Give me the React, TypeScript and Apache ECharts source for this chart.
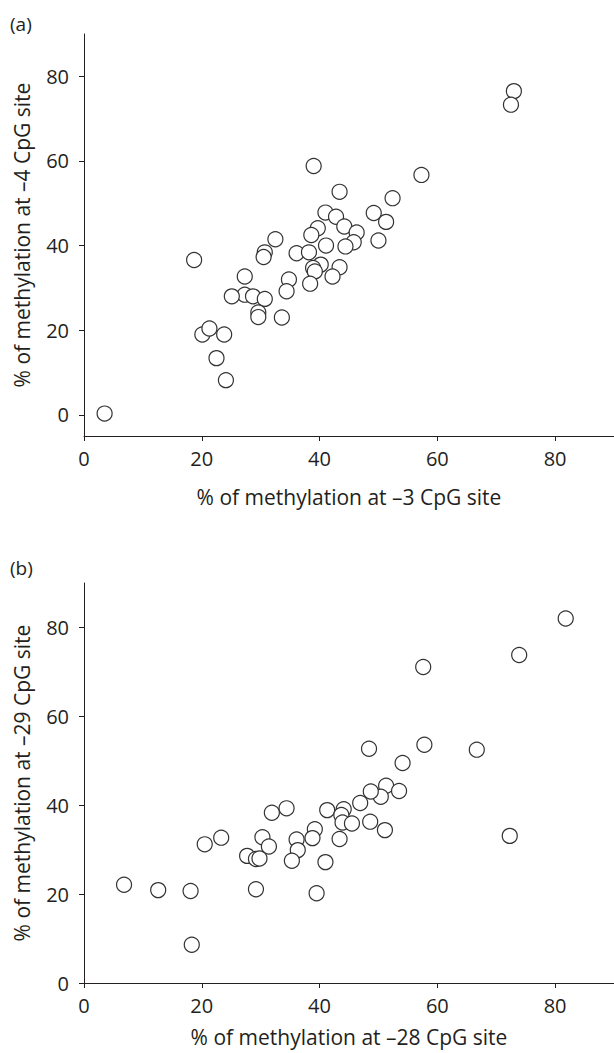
import React, { useEffect, useRef } from "react";
import * as echarts from "echarts";

// Panel (a): -3 CpG (x) vs -4 CpG (y)
const aX = [3.5, 39.0, 43.4, 52.4, 57.3, 41.0, 42.8, 49.2, 51.3, 44.2, 39.7, 38.6, 46.3, 45.8, 44.4, 50.0, 41.1, 32.5, 30.7, 30.5, 36.1, 38.2, 40.2, 38.9, 43.4, 39.2, 42.2, 38.4, 27.3, 34.8, 34.4, 27.3, 25.1, 28.7, 30.7, 29.6, 29.6, 33.6, 18.7, 20.1, 21.3, 23.8, 22.5, 24.1, 73.0, 72.5];
const aY = [0.3, 58.8, 52.7, 51.2, 56.7, 47.8, 46.8, 47.7, 45.6, 44.5, 44.1, 42.5, 43.1, 40.8, 39.8, 41.2, 40.0, 41.5, 38.4, 37.3, 38.2, 38.4, 35.5, 34.7, 34.9, 33.9, 32.7, 31.0, 32.7, 32.0, 29.2, 28.4, 28.0, 28.0, 27.4, 24.2, 23.1, 23.0, 36.6, 19.0, 20.4, 19.0, 13.4, 8.2, 76.5, 73.3];

// Panel (b): -28 CpG (x) vs -29 CpG (y)
const bX = [6.8, 12.6, 18.1, 18.3, 29.2, 39.5, 20.5, 23.3, 31.9, 34.4, 41.3, 30.3, 31.4, 27.7, 29.2, 29.8, 36.1, 36.3, 35.3, 39.2, 38.8, 41.0, 57.6, 48.4, 57.8, 66.7, 54.1, 51.3, 53.5, 50.4, 48.7, 46.9, 44.1, 43.7, 43.9, 45.5, 48.6, 51.1, 43.4, 81.8, 73.9, 72.3];
const bY = [22.1, 20.9, 20.7, 8.6, 21.1, 20.2, 31.2, 32.7, 38.3, 39.3, 38.9, 32.8, 30.7, 28.6, 27.9, 28.0, 32.3, 29.9, 27.5, 34.6, 32.6, 27.2, 71.1, 52.7, 53.6, 52.5, 49.5, 44.4, 43.2, 41.9, 43.1, 40.5, 39.1, 37.8, 36.1, 35.9, 36.3, 34.4, 32.4, 82.0, 73.8, 33.1];

const tickValues = [0, 20, 40, 60, 80];
const panelLabels = ["(a)", "(b)"];
const xNames = ["% of methylation at \u20133 CpG site", "% of methylation at \u201328 CpG site"];
const yNames = ["% of methylation at \u20134 CpG site", "% of methylation at \u201329 CpG site"];

const INK = "#231f20";
const FONT = "'Open Sans', 'Noto Sans', sans-serif";

function makeAxis(gridIndex: number, name: string, min: number, isY: boolean, nameGap: number) {
  return {
    type: "value",
    gridIndex,
    min,
    max: 90,
    name,
    nameLocation: "middle",
    nameGap,
    nameTextStyle: { fontSize: 21, lineHeight: 22, color: INK, fontFamily: FONT },
    axisLine: { show: true, onZero: false, lineStyle: { color: INK, width: 1 } },
    axisTick: { show: true, inside: false, length: 5, customValues: tickValues, lineStyle: { color: INK, width: 1 } },
    axisLabel: { customValues: tickValues, fontSize: 20, color: INK, fontFamily: FONT, margin: isY ? 15 : 12 },
    splitLine: { show: false },
  };
}

export default function App() {
  const ref = useRef<HTMLDivElement>(null);
  useEffect(() => {
    document.body.style.margin = "0";
    if (!ref.current) return;
    const chart = echarts.init(ref.current, undefined, { renderer: "svg" });
    const sym = {
      symbol: "circle",
      symbolSize: 15,
      itemStyle: { color: "#ffffff", borderColor: "#333333", borderWidth: 1.2, opacity: 1 },
    };
    chart.setOption({
      animation: false,
      backgroundColor: "#ffffff",
      graphic: [
        { type: "text", left: 10, top: 14, style: { text: panelLabels[0], fontSize: 19, fill: INK, fontFamily: FONT } },
        { type: "text", left: 10, top: 558, style: { text: panelLabels[1], fontSize: 19, fill: INK, fontFamily: FONT } },
      ],
      grid: [
        { left: 84, right: 0, top: 34, height: 402, outerBoundsMode: "none" },
        { left: 84, right: 0, top: 583, height: 400, outerBoundsMode: "none" },
      ],
      xAxis: [makeAxis(0, xNames[0], 0, false, 50), makeAxis(1, xNames[1], 0, false, 43)],
      yAxis: [makeAxis(0, yNames[0], -5, true, 51), makeAxis(1, yNames[1], 0, true, 51)],
      series: [
        { type: "scatter", xAxisIndex: 0, yAxisIndex: 0, data: aX.map((x, i) => [x, aY[i]]), ...sym },
        { type: "scatter", xAxisIndex: 1, yAxisIndex: 1, data: bX.map((x, i) => [x, bY[i]]), ...sym },
      ],
    });
    return () => chart.dispose();
  }, []);
  return <div ref={ref} style={{ position: "absolute", left: 0, top: 0, width: 614, height: 1053 }} />;
}
